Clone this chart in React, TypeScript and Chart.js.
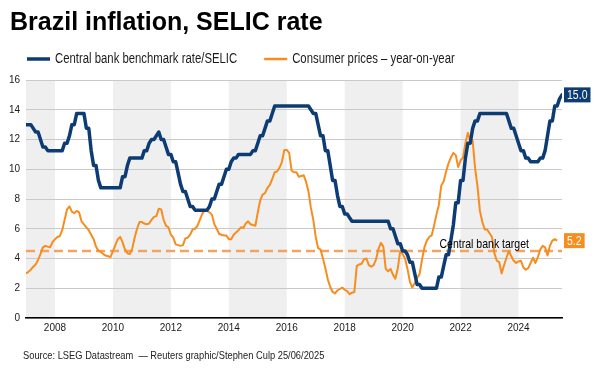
import React, { useEffect, useRef } from "react";
import { Chart, registerables } from "chart.js";

Chart.register(...registerables);

const TITLE = "Brazil inflation, SELIC rate";
const SOURCE = "Source: LSEG Datastream\u00a0\u00a0\u2014 Reuters graphic/Stephen Culp 25/06/2025";
const SERIES_LABELS = ["Central bank benchmark rate/SELIC", "Consumer prices \u2013 year-on-year"];
const TARGET_LABEL = "Central bank target";

const START_YEAR = 2007;
const END_YEAR = 2025.5;
const YEAR_TICKS = [2008, 2010, 2012, 2014, 2016, 2018, 2020, 2022, 2024];
const SHADED_PERIODS = [
  [2007, 2008],
  [2010, 2012],
  [2014, 2016],
  [2018, 2020],
  [2022, 2024],
];
const Y_MIN = 0;
const Y_MAX = 16;
const Y_STEP = 2;
const TARGET = 4.5;
const TARGET_LABEL_AT = 2021.27;

// Monthly, starting January 2007 (SELIC through July 2025, inflation through May 2025)
const SELIC = [
  13.0, 13.0, 13.0, 12.75, 12.5, 12.5, 12.0, 11.5, 11.5, 11.25, 11.25, 11.25,
  11.25, 11.25, 11.25, 11.25, 11.75, 11.75, 12.25, 13.0, 13.0, 13.75, 13.75, 13.75,
  13.75, 12.75, 12.75, 11.25, 10.25, 10.25, 9.25, 8.75, 8.75, 8.75, 8.75, 8.75,
  8.75, 8.75, 8.75, 8.75, 9.5, 9.5, 10.25, 10.75, 10.75, 10.75, 10.75, 10.75,
  10.75, 11.25, 11.25, 11.75, 12.0, 12.0, 12.25, 12.5, 12.0, 12.0, 11.5, 11.0,
  11.0, 10.5, 10.5, 9.75, 9.0, 8.5, 8.5, 8.0, 7.5, 7.5, 7.25, 7.25,
  7.25, 7.25, 7.25, 7.25, 7.5, 8.0, 8.0, 8.5, 9.0, 9.0, 9.5, 10.0,
  10.0, 10.5, 10.75, 10.75, 11.0, 11.0, 11.0, 11.0, 11.0, 11.0, 11.25, 11.25,
  11.75, 12.25, 12.25, 12.75, 13.25, 13.25, 13.75, 14.25, 14.25, 14.25, 14.25, 14.25,
  14.25, 14.25, 14.25, 14.25, 14.25, 14.25, 14.25, 14.25, 14.25, 14.25, 14.0, 13.75,
  13.75, 13.0, 12.25, 12.25, 11.25, 11.25, 10.25, 9.25, 9.25, 8.25, 7.5, 7.5,
  7.0, 7.0, 6.75, 6.5, 6.5, 6.5, 6.5, 6.5, 6.5, 6.5, 6.5, 6.5,
  6.5, 6.5, 6.5, 6.5, 6.5, 6.5, 6.5, 6.0, 6.0, 5.5, 5.0, 5.0,
  4.5, 4.5, 4.25, 3.75, 3.75, 3.0, 2.25, 2.25, 2.0, 2.0, 2.0, 2.0,
  2.0, 2.0, 2.0, 2.75, 2.75, 3.5, 4.25, 4.25, 5.25, 6.25, 7.75, 7.75,
  9.25, 9.25, 10.75, 11.75, 11.75, 12.75, 13.25, 13.25, 13.75, 13.75, 13.75, 13.75,
  13.75, 13.75, 13.75, 13.75, 13.75, 13.75, 13.75, 13.75, 13.25, 12.75, 12.75, 12.25,
  11.75, 11.25, 11.25, 10.75, 10.75, 10.5, 10.5, 10.5, 10.5, 10.75, 10.75, 11.25,
  12.25, 13.25, 13.25, 14.25, 14.25, 14.75, 15.0,
];

const CPI = [
  3.0, 3.1, 3.25, 3.45, 3.6, 3.9, 4.3, 4.75, 4.85, 4.8, 4.75, 5.1,
  5.3, 5.45, 5.5, 5.9, 6.6, 7.3, 7.5, 7.15, 7.05, 7.2, 7.1, 6.5,
  6.3, 6.1, 5.9, 5.6, 5.3, 4.8, 4.5, 4.45, 4.3, 4.2, 4.15, 4.1,
  4.5, 4.9, 5.3, 5.45, 5.1, 4.6, 4.35, 4.3, 4.65, 5.4, 6.0, 6.45,
  6.45, 6.35, 6.3, 6.35, 6.6, 6.8, 6.85, 7.35, 7.3, 6.6, 6.2, 6.1,
  5.6, 5.4, 4.95, 4.9, 4.85, 4.9, 5.35, 5.4, 5.6, 5.95, 6.0, 6.2,
  6.6, 7.0, 7.25, 7.2, 7.1, 6.95, 6.3, 6.0, 5.65, 5.6, 5.55, 5.55,
  5.3, 5.3, 5.6, 5.75, 5.9, 6.1, 6.05, 6.35, 6.5, 6.3, 6.25, 6.2,
  7.1, 7.9, 8.3, 8.4, 8.75, 8.95, 9.35, 9.8, 9.85, 10.1, 10.5, 11.3,
  11.3, 11.1, 9.9, 9.8, 9.8, 9.5, 9.55, 9.6, 9.15, 8.5, 7.4, 6.6,
  5.45, 4.7, 4.6, 4.0, 3.35, 2.6, 2.1, 1.75, 1.65, 1.85, 1.95, 2.05,
  1.9, 1.8, 1.6, 1.7, 1.75, 3.5, 3.6, 3.65, 3.95, 4.0, 3.55, 3.45,
  3.55, 3.95, 4.65, 5.05, 4.8, 3.3, 3.15, 3.3, 2.9, 2.65, 3.35, 4.5,
  4.3, 4.0, 3.3, 2.45, 2.05, 2.35, 2.7, 2.95, 3.9, 4.75, 5.2, 5.45,
  5.55, 6.2, 6.95, 7.6, 8.9, 9.2, 9.85, 10.4, 10.8, 11.1, 10.95, 10.15,
  10.6, 10.8, 11.75, 12.45, 11.9, 11.9, 10.1, 8.85, 7.2, 6.45, 5.95, 5.95,
  5.7, 5.45, 4.35, 3.85, 3.75, 3.0, 3.55, 4.05, 4.5, 4.15, 3.85, 3.7,
  3.8, 3.85, 3.4, 3.25, 3.35, 3.7, 4.05, 3.7, 4.1, 4.6, 4.85, 4.75,
  4.2, 4.85, 5.2, 5.3, 5.2,
];

const NAVY = "#0d3c74";
const ORANGE = "#f78d1e";
const TARGET_COLOR = "#f2a35f";
const BAND = "#efefef";
const GRID = "#c9c9c9";
const TEXT = "#1a1a1a";
const SANS = "'Liberation Sans', Arial, sans-serif";
const CONDENSE = 0.81;

const toPoints = (arr: number[]) => arr.map((v, i) => ({ x: START_YEAR + i / 12, y: v }));

const drawCondensed = (ctx: CanvasRenderingContext2D, text: string, x: number, y: number) => {
  ctx.save();
  ctx.translate(x, y);
  ctx.scale(CONDENSE, 1);
  ctx.fillText(text, 0, 0);
  ctx.restore();
  return ctx.measureText(text).width * CONDENSE;
};

const bandsPlugin = {
  id: "bands",
  beforeDraw(chart: any) {
    const { ctx, chartArea, scales } = chart;
    const xs = scales.x;
    ctx.save();
    ctx.fillStyle = BAND;
    SHADED_PERIODS.forEach(([a, b]) => {
      const x0 = Math.max(xs.getPixelForValue(a), chartArea.left);
      const x1 = Math.min(xs.getPixelForValue(b), chartArea.right);
      ctx.fillRect(x0, chartArea.top, x1 - x0, chartArea.bottom - chartArea.top);
    });
    ctx.restore();
  },
};

const labelsPlugin = {
  id: "labels",
  afterDraw(chart: any) {
    const { ctx, chartArea, scales } = chart;
    const ys = scales.y;
    const xs = scales.x;
    ctx.save();

    // legend
    ctx.font = `14px ${SANS}`;
    ctx.textBaseline = "middle";
    ctx.textAlign = "left";
    const legendY = 59;
    let lx = 27;
    const items = [
      { label: SERIES_LABELS[0], color: NAVY, h: 3.5 },
      { label: SERIES_LABELS[1], color: ORANGE, h: 2.5 },
    ];
    items.forEach((it) => {
      ctx.fillStyle = it.color;
      ctx.fillRect(lx, legendY - it.h / 2, 23, it.h);
      ctx.fillStyle = TEXT;
      const w = drawCondensed(ctx, it.label, lx + 28, legendY + 0.5);
      lx = lx + 28 + w + 27;
    });

    // target label
    const yT = ys.getPixelForValue(TARGET);
    ctx.font = `13px ${SANS}`;
    ctx.textBaseline = "alphabetic";
    ctx.fillStyle = "#000";
    drawCondensed(ctx, TARGET_LABEL, xs.getPixelForValue(TARGET_LABEL_AT), yT - 3.5);

    // end value tags
    const tag = (value: number, color: string) => {
      const y = ys.getPixelForValue(value);
      const text = value.toFixed(1);
      ctx.font = `13px ${SANS}`;
      const w = ctx.measureText(text).width * CONDENSE + 6;
      const h = 15;
      const x0 = chartArea.right + 2;
      ctx.fillStyle = color;
      ctx.fillRect(x0, y - h / 2, w, h);
      ctx.fillStyle = "#fff";
      ctx.textBaseline = "middle";
      drawCondensed(ctx, text, x0 + 3, y + 0.5);
    };
    tag(SELIC[SELIC.length - 1], NAVY);
    tag(CPI[CPI.length - 1], ORANGE);
    ctx.restore();
  },
};

function ChartCanvas() {
  const ref = useRef<HTMLCanvasElement | null>(null);
  useEffect(() => {
    if (!ref.current) return;
    const tickFont = { family: SANS, size: 10 };
    const chart = new Chart(ref.current, {
      type: "line",
      data: {
        datasets: [
          {
            label: SERIES_LABELS[0],
            data: toPoints(SELIC),
            borderColor: NAVY,
            borderWidth: 3.5,
            pointRadius: 0,
            tension: 0,
            borderJoinStyle: "round",
            borderCapStyle: "round",
          },
          {
            label: SERIES_LABELS[1],
            data: toPoints(CPI),
            borderColor: ORANGE,
            borderWidth: 2,
            pointRadius: 0,
            tension: 0,
            borderJoinStyle: "round",
          },
          {
            label: TARGET_LABEL,
            data: [
              { x: START_YEAR, y: TARGET },
              { x: END_YEAR, y: TARGET },
            ],
            borderColor: TARGET_COLOR,
            borderWidth: 2.5,
            borderDash: [9, 5],
            pointRadius: 0,
          },
        ],
      },
      options: {
        animation: false,
        responsive: false,
        events: [],
        layout: { padding: { left: 0, right: 38, top: 80, bottom: 38 } },
        plugins: {
          legend: { display: false },
          tooltip: { enabled: false },
          title: { display: false },
        },
        scales: {
          x: {
            type: "linear",
            min: START_YEAR,
            max: END_YEAR,
            grid: { display: false, drawTicks: false },
            border: { display: true, color: "#000", width: 1.5 },
            ticks: {
              font: tickFont,
              color: TEXT,
              padding: 4,
              maxRotation: 0,
              autoSkip: false,
              callback: (v: any) => String(v),
            },
            afterBuildTicks: (s: any) => {
              s.ticks = YEAR_TICKS.map((v) => ({ value: v }));
            },
            afterFit: (s: any) => {
              s.height = 20;
            },
          },
          y: {
            min: Y_MIN,
            max: Y_MAX,
            ticks: { stepSize: Y_STEP, font: tickFont, color: TEXT, padding: 6 },
            grid: { color: GRID, drawTicks: false, lineWidth: 1 },
            border: { display: false },
            afterFit: (s: any) => {
              s.width = 26;
            },
          },
        },
      },
      plugins: [bandsPlugin, labelsPlugin],
    } as any);
    return () => chart.destroy();
  }, []);
  return <canvas ref={ref} width={600} height={376} style={{ position: "absolute", left: 0, top: 0, width: 600, height: 376 }} />;
}

export default function App() {
  return (
    <div style={{ position: "absolute", left: 0, top: 0, width: 600, height: 376, background: "#fff", overflow: "hidden" }}>
      <ChartCanvas />
      <div
        style={{
          position: "absolute",
          left: 10,
          top: 7,
          font: `bold 25px ${SANS}`,
          color: "#000",
          whiteSpace: "nowrap",
        }}
      >
        {TITLE}
      </div>
      <div
        style={{
          position: "absolute",
          left: 23,
          top: 349,
          fontFamily: SANS,
          fontSize: 11.5,
          color: "#222",
          whiteSpace: "nowrap",
          transform: `scaleX(${CONDENSE})`,
          transformOrigin: "left top",
        }}
      >
        {SOURCE}
      </div>
    </div>
  );
}
